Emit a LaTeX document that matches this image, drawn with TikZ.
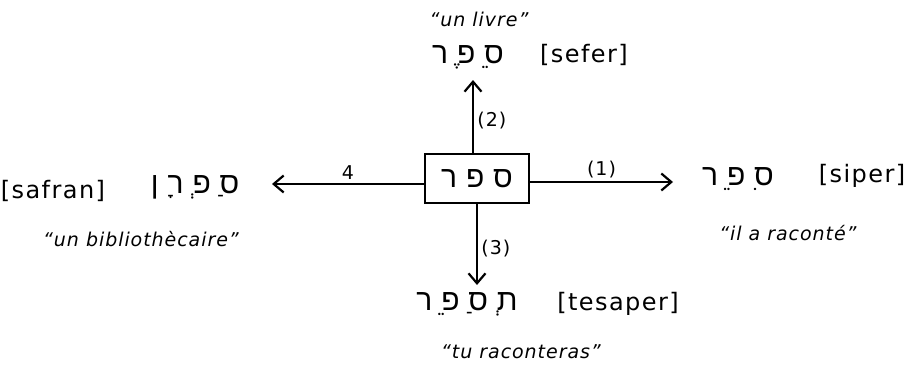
\documentclass[tikz,border=0pt]{standalone}
\usepackage{fontspec}
\usetikzlibrary{arrows.meta}
\TeXXeTstate=1
\newfontfamily\hebfont[Script=Hebrew,LetterSpace=30]{Liberation Sans}
\newfontfamily\handfont[LetterSpace=6]{DejaVu Sans}
\newfontfamily\glossfont[LetterSpace=5]{DejaVu Sans}
\newcommand{\hebr}[1]{\beginR#1\endR}
\tikzset{
  hebword/.style={font=\fontsize{30}{34}\selectfont\hebfont, inner sep=0pt, anchor=base},
  translit/.style={font=\fontsize{24}{28}\selectfont\handfont, inner sep=0pt, anchor=base},
  gloss/.style={font=\fontsize{19}{22}\selectfont\glossfont\itshape, inner sep=0pt, anchor=base},
  numlabel/.style={font=\fontsize{19}{22}\selectfont\glossfont},
  derive/.style={-{Straight Barb[length=10pt,width=17pt,line width=2.2pt]}, line width=2.2pt}
}
\begin{document}
\begin{tikzpicture}[x=1pt,y=-1pt]
\useasboundingbox (0,0) rectangle (910,372);
% root in the box
\node[draw, line width=2.2pt, minimum width=104pt, minimum height=49pt, hebword, anchor=center] (root) at (477,178.5) {\hebr{ספר}};
% arrow tips
\coordinate (uptip) at (473,80);
\coordinate (righttip) at (673,182);
\coordinate (downtip) at (477,285);
\coordinate (lefttip) at (272,184);
% (2) sefer
\node[hebword] (sefer) at (468,63) {\hebr{סֵפֶר}};
\node[translit] (sefertr) at (584,62) {[sefer]};
\node[gloss] (sefergl) at (479,27) {“un livre”};
% (1) siper
\node[hebword] (siper) at (738,185) {\hebr{סִפֵר}};
\node[translit] (sipertr) at (862,182) {[siper]};
\node[gloss] (sipergl) at (788,240) {“il a raconté”};
% (3) tesaper
\node[hebword] (tesaper) at (467,310) {\hebr{תְסַפֵר}};
\node[translit] (tesapertr) at (618,310) {[tesaper]};
\node[gloss] (tesapergl) at (521,358) {“tu raconteras”};
% 4 safran
\node[hebword] (safran) at (195,193) {\hebr{סַפְרָן}};
\node[translit] (safrantr) at (53,198) {[safran]};
\node[gloss] (safrangl) at (141,246) {“un bibliothècaire”};
% connectors
\draw[derive] (root.north -| uptip) -- node[numlabel, right, pos=.45] {(2)} (uptip);
\draw[derive] (root.east |- righttip) -- node[numlabel, above] {(1)} (righttip);
\draw[derive] (root.south -| downtip) -- node[numlabel, right, pos=.55] {(3)} (downtip);
\draw[derive] (root.west |- lefttip) -- node[numlabel, above] {4} (lefttip);
\end{tikzpicture}
\end{document}
